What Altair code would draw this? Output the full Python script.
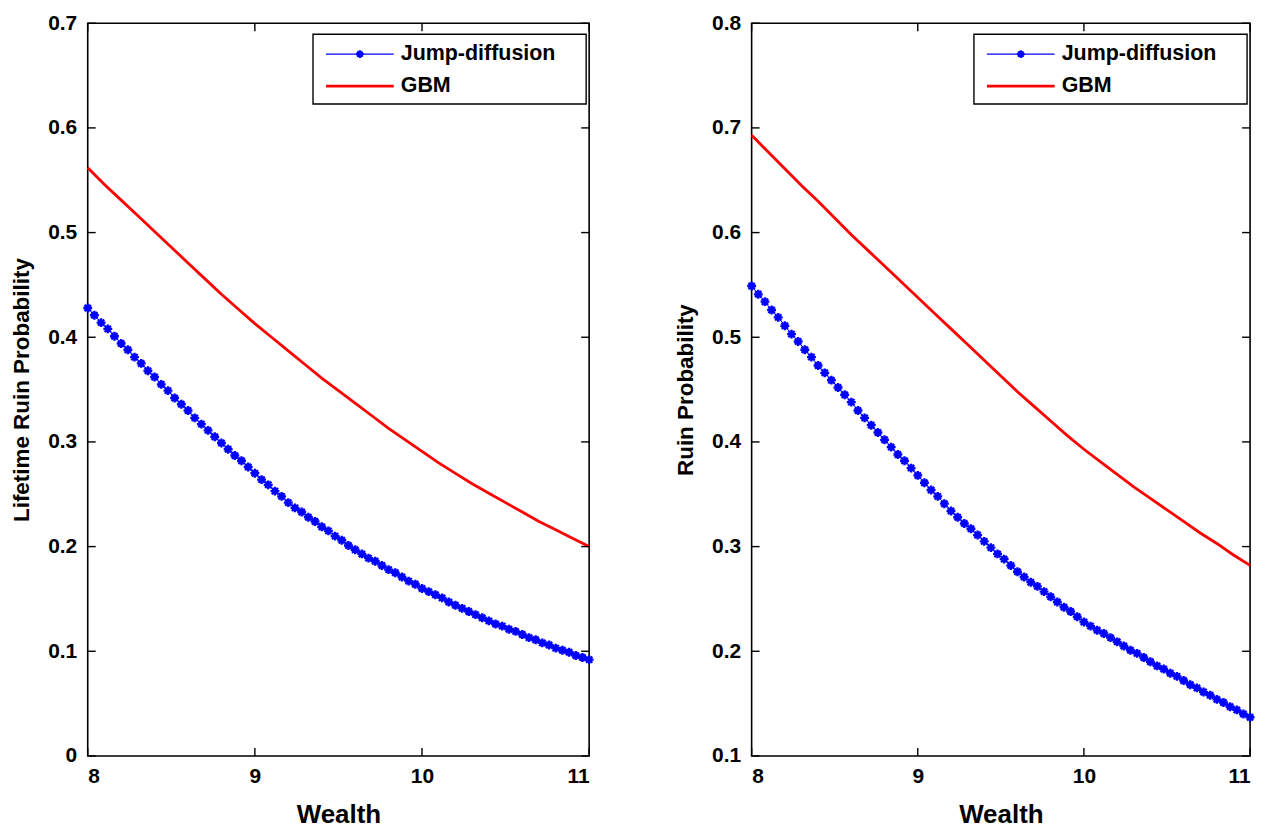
import altair as alt
import numpy as np
import pandas as pd

# Wealth grids: markers every 0.04 for the jump-diffusion curve, 0.1 for GBM
WEALTH_JD = np.round(np.linspace(8.0, 11.0, 76), 2)
WEALTH_GBM = np.round(np.linspace(8.0, 11.0, 31), 2)

# Lifetime ruin probability (left panel)
LIFETIME_JD = [
    0.428, 0.421, 0.414, 0.408, 0.401, 0.394, 0.388, 0.381, 0.375, 0.368,
    0.362, 0.355, 0.349, 0.342, 0.336, 0.330, 0.323, 0.317, 0.311, 0.305,
    0.299, 0.293, 0.287, 0.282, 0.276, 0.270, 0.264, 0.259, 0.253, 0.248,
    0.242, 0.237, 0.233, 0.228, 0.224, 0.219, 0.215, 0.210, 0.206, 0.201,
    0.197, 0.193, 0.189, 0.186, 0.182, 0.178, 0.175, 0.171, 0.167, 0.164,
    0.160, 0.157, 0.154, 0.151, 0.147, 0.144, 0.141, 0.138, 0.135, 0.132,
    0.129, 0.126, 0.124, 0.121, 0.119, 0.116, 0.113, 0.111, 0.108, 0.106,
    0.103, 0.101, 0.099, 0.096, 0.094, 0.092,
]
LIFETIME_GBM = [
    0.562, 0.546, 0.531, 0.516, 0.501, 0.486, 0.471, 0.456, 0.441, 0.427,
    0.413, 0.400, 0.387, 0.374, 0.361, 0.349, 0.337, 0.325, 0.313, 0.302,
    0.291, 0.280, 0.270, 0.260, 0.251, 0.242, 0.233, 0.224, 0.216, 0.208,
    0.200,
]

# Ruin probability (right panel)
RUIN_JD = [
    0.549, 0.541, 0.534, 0.526, 0.519, 0.511, 0.503, 0.496, 0.488, 0.481,
    0.473, 0.466, 0.459, 0.452, 0.445, 0.438, 0.430, 0.423, 0.416, 0.409,
    0.402, 0.395, 0.388, 0.382, 0.375, 0.368, 0.361, 0.354, 0.348, 0.341,
    0.334, 0.328, 0.322, 0.317, 0.311, 0.305, 0.299, 0.293, 0.288, 0.282,
    0.276, 0.271, 0.266, 0.262, 0.257, 0.252, 0.247, 0.242, 0.238, 0.233,
    0.228, 0.224, 0.220, 0.217, 0.213, 0.209, 0.205, 0.201, 0.198, 0.194,
    0.190, 0.186, 0.183, 0.179, 0.176, 0.172, 0.168, 0.165, 0.161, 0.158,
    0.154, 0.151, 0.147, 0.144, 0.140, 0.137,
]
RUIN_GBM = [
    0.693, 0.677, 0.661, 0.645, 0.630, 0.614, 0.598, 0.583, 0.568, 0.553,
    0.538, 0.523, 0.508, 0.493, 0.478, 0.463, 0.448, 0.434, 0.420, 0.406,
    0.393, 0.381, 0.369, 0.357, 0.346, 0.335, 0.324, 0.313, 0.303, 0.292,
    0.282,
]

X_TICKS = [8, 9, 10, 11]
Y_TICKS_LEFT = [0, 0.1, 0.2, 0.3, 0.4, 0.5, 0.6, 0.7]
Y_TICKS_RIGHT = [0.1, 0.2, 0.3, 0.4, 0.5, 0.6, 0.7, 0.8]

FONT = "Liberation Sans"
BLUE = "#0000ff"
RED = "#ff0000"
ASTERISK = "M-1,0L1,0M0,-1L0,1M-0.7,-0.7L0.7,0.7M-0.7,0.7L0.7,-0.7"
H = 735
TICK = 8


def panel(jd_vals, gbm_vals, y_domain, y_ticks, y_title, width):
    x_scale = alt.Scale(domain=[8, 11], nice=False, zero=False)
    y_scale = alt.Scale(domain=y_domain, nice=False, zero=False)
    jd = pd.DataFrame({"wealth": WEALTH_JD, "prob": jd_vals})
    gbm = pd.DataFrame({"wealth": WEALTH_GBM, "prob": gbm_vals})

    x_axis = alt.Axis(values=X_TICKS, ticks=False, domain=False, grid=False,
                      labelPadding=10, titlePadding=15, labelFontSize=21,
                      titleFontSize=26, format="d")
    y_axis = alt.Axis(values=y_ticks, ticks=False, domain=False, grid=False,
                      labelPadding=11, titlePadding=14, labelFontSize=21,
                      titleFontSize=22.5, format="~g")

    def xq(field):
        return alt.X(field, type="quantitative", scale=x_scale, axis=x_axis,
                     title="Wealth")

    def yq(field):
        return alt.Y(field, type="quantitative", scale=y_scale, axis=y_axis,
                     title=y_title)

    gbm_line = alt.Chart(gbm).mark_line(color=RED, strokeWidth=2.8).encode(
        x=xq("wealth"), y=yq("prob"))
    jd_base = alt.Chart(jd).encode(x=xq("wealth"), y=yq("prob"))
    jd_line = jd_base.mark_line(color=BLUE, strokeWidth=1)
    jd_pts = jd_base.mark_point(shape=ASTERISK, filled=False, color=BLUE,
                                strokeWidth=2.4, size=80, opacity=1)

    xt = alt.Chart(pd.DataFrame({"t": X_TICKS}))
    yt = alt.Chart(pd.DataFrame({"t": y_ticks}))
    tick_style = dict(color="black", strokeWidth=1.4)
    x_bot = xt.mark_rule(**tick_style).encode(
        x=xq("t"), y=alt.value(H), y2=alt.value(H - TICK))
    x_top = xt.mark_rule(**tick_style).encode(
        x=xq("t"), y=alt.value(0), y2=alt.value(TICK))
    y_left = yt.mark_rule(**tick_style).encode(
        y=yq("t"), x=alt.value(0), x2=alt.value(TICK))
    y_right = yt.mark_rule(**tick_style).encode(
        y=yq("t"), x=alt.value(width), x2=alt.value(width - TICK))

    # legend box in the upper-right corner
    one = alt.Chart(pd.DataFrame({"k": [0]}))
    bx0, bx1 = width - 277, width - 3
    box = one.mark_rect(fill="white", stroke="black", strokeWidth=1.4).encode(
        x=alt.value(bx0), x2=alt.value(bx1), y=alt.value(11), y2=alt.value(81))
    leg_jd = one.mark_rule(color=BLUE, strokeWidth=1.2).encode(
        x=alt.value(bx0 + 13), x2=alt.value(bx0 + 81), y=alt.value(31))
    leg_jd_pt = one.mark_point(shape=ASTERISK, filled=False, color=BLUE,
                               strokeWidth=2.2, size=60, opacity=1).encode(
        x=alt.value(bx0 + 47), y=alt.value(31))
    leg_gbm = one.mark_rule(color=RED, strokeWidth=2.8).encode(
        x=alt.value(bx0 + 13), x2=alt.value(bx0 + 81), y=alt.value(63))
    txt = dict(font=FONT, fontWeight="bold", fontSize=21.5, align="left",
               baseline="middle", color="black")
    leg_jd_txt = one.mark_text(**txt).encode(
        x=alt.value(bx0 + 88), y=alt.value(31), text=alt.value("Jump-diffusion"))
    leg_gbm_txt = one.mark_text(**txt).encode(
        x=alt.value(bx0 + 88), y=alt.value(63), text=alt.value("GBM"))

    return alt.layer(
        gbm_line, jd_line, jd_pts, x_bot, x_top, y_left, y_right,
        box, leg_jd, leg_jd_pt, leg_gbm, leg_jd_txt, leg_gbm_txt,
    ).properties(width=width, height=H)


left = panel(LIFETIME_JD, LIFETIME_GBM, [0, 0.7], Y_TICKS_LEFT,
             "Lifetime Ruin Probability", 503)
right = panel(RUIN_JD, RUIN_GBM, [0.1, 0.8], Y_TICKS_RIGHT,
              "Ruin Probability", 500)

chart = alt.hconcat(left, right, spacing=74).properties(
    padding={"left": 10, "top": 10, "right": 10, "bottom": 2},
    background="white",
).configure_view(
    stroke="black", strokeWidth=1.6,
).configure_axis(
    labelFont=FONT, titleFont=FONT, labelFontWeight="bold",
    titleFontWeight="bold", labelColor="black", titleColor="black",
)

chart.save("out.html", embed_options={"renderer": "svg", "actions": False})
